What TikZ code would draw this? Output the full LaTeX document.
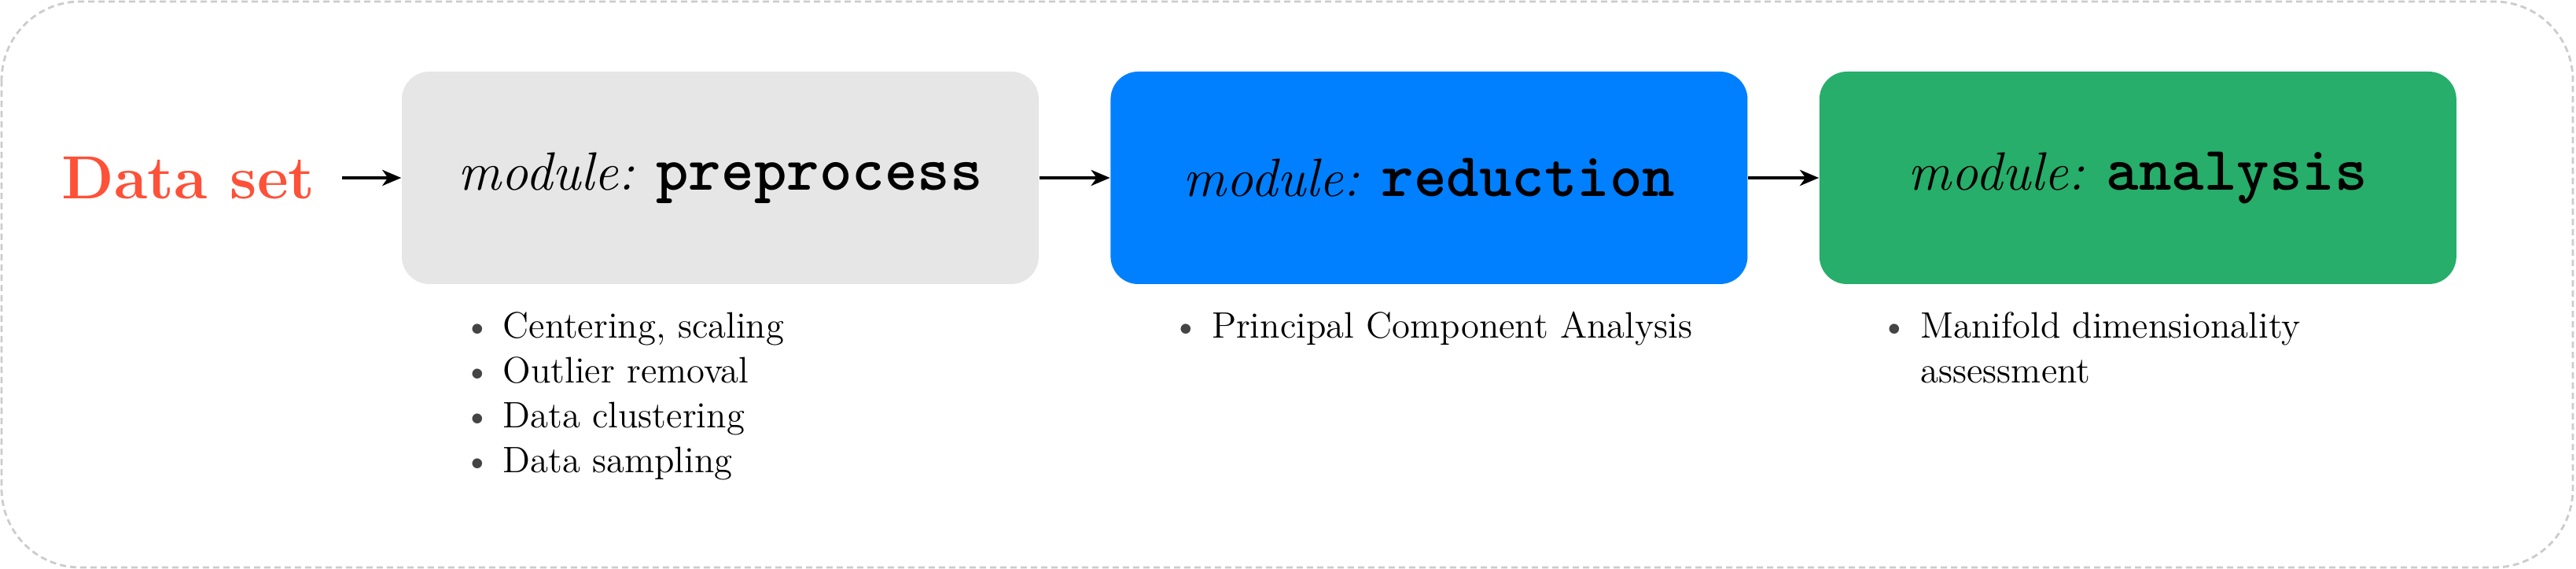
\documentclass[tikz,border=0pt]{standalone}
\usepackage{fontspec}
\usepackage{tikz}
\usetikzlibrary{arrows.meta, positioning}
\usepackage{xcolor}
\definecolor{datared}{RGB}{255,80,56}
\definecolor{modgray}{RGB}{230,230,230}
\definecolor{modblue}{RGB}{0,128,255}
\definecolor{modgreen}{RGB}{38,174,106}
\definecolor{framegray}{RGB}{204,204,204}
\definecolor{dotgray}{RGB}{68,68,68}
\newcommand{\modname}[1]{\textit{module:} {\fontsize{22.5}{23}\selectfont\ttfamily\bfseries #1}}
\newcommand{\itm}{\textcolor{dotgray}{\textbullet}}
\tikzset{
    module/.style={
        rectangle, rounded corners=10pt,
        minimum width=8.1cm, minimum height=2.7cm,
        font=\fontsize{19.5}{23}\selectfont, align=center
    },
    tasks/.style={
        inner sep=0pt, align=left,
        font=\fontsize{13.3}{16.2}\selectfont
    },
    dataset/.style={
        font=\fontsize{22}{26}\selectfont\bfseries, text=datared,
        inner ysep=0pt, inner xsep=0.34cm
    },
    arrow/.style={-{Stealth[length=0.24cm, width=0.2cm, inset=0.07cm]}, line width=1.4pt},
    frame/.style={
        draw=framegray, dash pattern=on 0.08cm off 0.05cm,
        line width=0.8pt, rounded corners=1cm
    }
}

\begin{document}
\begin{tikzpicture}[node distance=9mm and 9mm]
    \useasboundingbox (0,0) rectangle (32.76,-7.23);
    \draw[frame] (0.02,-0.02) rectangle (32.72,-7.21);

    \node[module, fill=modgray] (pre) at (9.16,-2.26) {\modname{preprocess}};
    \node[module, fill=modblue, right=of pre] (red) {\modname{reduction}};
    \node[module, fill=modgreen, right=of red] (ana) {\modname{analysis}};
    \node[dataset, left=0.75cm of pre] (data) {Data set};

    \draw[arrow] (data) -- (pre);
    \draw[arrow] (pre) -- (red);
    \draw[arrow] (red) -- (ana);

    % what each module does
    \node[tasks, below right=0.27cm and 0.78cm of pre.south west] (prel) {%
        \begin{tabular}{@{}l@{\hspace{0.15cm}}l@{}}
            \itm & Centering, scaling\\
            \itm & Outlier removal\\
            \itm & Data clustering\\
            \itm & Data sampling
        \end{tabular}};
    \node[tasks, below right=0.27cm and 0.78cm of red.south west] (redl) {%
        \begin{tabular}{@{}l@{\hspace{0.15cm}}l@{}}
            \itm & Principal Component Analysis
        \end{tabular}};
    \node[tasks, below right=0.27cm and 0.78cm of ana.south west] (anal) {%
        \begin{tabular}{@{}l@{\hspace{0.15cm}}l@{}}
            \itm & Manifold dimensionality\\
                 & assessment
        \end{tabular}};
\end{tikzpicture}
\end{document}
